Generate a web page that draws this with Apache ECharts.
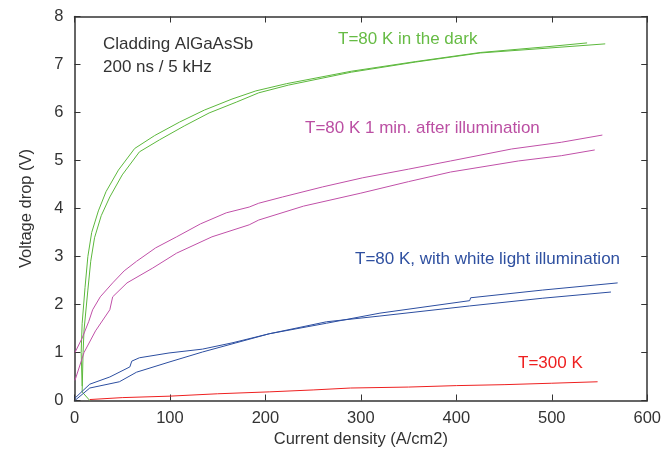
<!DOCTYPE html>
<html>
<head>
<meta charset="utf-8">
<script src="https://cdn.jsdelivr.net/npm/echarts@6/dist/echarts.min.js"></script>
<style>html,body{margin:0;padding:0;background:#fff}#c{width:664px;height:459px}</style>
</head>
<body>
<div id="c"></div>
<script>
// Data (x: current density A/cm2, y: voltage drop V)
var darkA = [[16,0],[8,0.18],[9,1.0],[10,1.47],[14,2.3],[17,2.9],[21,3.39],[28,3.85],[37,4.24],[50,4.7],[68,5.18],[89,5.43],[115,5.72],[141,5.99],[170,6.22],[193,6.41],[224,6.57],[290,6.84],[357,7.05],[425,7.24],[495,7.34],[556,7.43]];
var darkB = [[8,0.3],[7,1.0],[8,1.6],[11,2.35],[14,3.0],[18,3.5],[25,3.95],[33,4.35],[46,4.8],[63,5.25],[84,5.52],[110,5.8],[136,6.05],[165,6.28],[190,6.45],[222,6.6],[290,6.86],[357,7.06],[425,7.25],[495,7.37],[537,7.45]];
var illumA = [[0.5,1.0],[8,1.3],[15,1.65],[19,1.89],[27,2.16],[40,2.45],[52,2.7],[65,2.9],[85,3.18],[107,3.41],[132,3.68],[159,3.91],[183,4.03],[193,4.11],[218,4.24],[260,4.45],[302,4.64],[350,4.82],[394,4.99],[458,5.24],[510,5.38],[553,5.53]];
var illumB = [[0.5,0.42],[10,1.0],[22,1.45],[37,1.89],[40,2.16],[55,2.45],[82,2.76],[107,3.07],[144,3.41],[183,3.66],[193,3.76],[240,4.05],[300,4.32],[350,4.56],[394,4.76],[465,4.99],[510,5.1],[545,5.22]];
var whiteA = [[0.5,0.05],[16,0.34],[37,0.49],[58,0.70],[60,0.71],[60,0.82],[68,0.89],[99,0.99],[134,1.07],[165,1.20],[204,1.39],[264,1.61],[320,1.82],[414,2.08],[415,2.14],[490,2.3],[569,2.45]];
var whiteB = [[1,0.01],[16,0.26],[47,0.39],[65,0.59],[99,0.80],[134,1.01],[169,1.20],[204,1.39],[264,1.64],[320,1.76],[414,1.97],[490,2.13],[562,2.26]];
var warm = [[16,0.02],[50,0.06],[99,0.09],[150,0.14],[204,0.18],[250,0.22],[289,0.26],[290,0.24],[350,0.28],[400,0.31],[450,0.33],[500,0.36],[548,0.39]];
var xTicks = [0,100,200,300,400,500,600];
var yTicks = [0,1,2,3,4,5,6,7,8];

var FONT = "'Liberation Sans', Arial, sans-serif";
var cGreen = '#5cb83c', cMag = '#c050a8', cBlue = '#2c4ea0', cRed = '#ee2020';

function ln(data, color){
  return {type:'line', data:data, showSymbol:false, symbol:'none', smooth:false,
    lineStyle:{color:color, width:1}, itemStyle:{color:color}, animation:false, z:3};
}
var axisCommon = {
  axisLine:{show:true, onZero:false, lineStyle:{color:'#333', width:1.5}},
  axisTick:{show:true, inside:true, length:6, lineStyle:{color:'#333'}},
  splitLine:{show:false}
};
var chart = echarts.init(document.getElementById('c'), null, {renderer:'canvas'});
chart.setOption({
  animation:false,
  grid:{left:74.5, top:16.5, right:13.5, bottom:58.5},
  xAxis:[
    Object.assign({type:'value', min:xTicks[0], max:xTicks[xTicks.length-1], interval:100, position:'bottom',
      name:'Current density (A/cm2)', nameLocation:'middle', nameGap:30,
      nameTextStyle:{fontFamily:FONT, fontSize:16.5, color:'#333'},
      axisLabel:{fontFamily:FONT, fontSize:16.5, color:'#333', margin:9}}, axisCommon),
    Object.assign({type:'value', min:0, max:600, interval:100, position:'top', axisLabel:{show:false}}, axisCommon)
  ],
  yAxis:[
    Object.assign({type:'value', min:yTicks[0], max:yTicks[yTicks.length-1], interval:1, position:'left',
      name:'Voltage drop (V)', nameLocation:'middle', nameGap:40,
      nameTextStyle:{fontFamily:FONT, fontSize:16.5, color:'#333'},
      axisLabel:{fontFamily:FONT, fontSize:16.5, color:'#333', margin:11}}, axisCommon),
    Object.assign({type:'value', min:0, max:8, interval:1, position:'right', axisLabel:{show:false}}, axisCommon)
  ],
  series:[ln(darkA,cGreen), ln(darkB,cGreen), ln(illumA,cMag), ln(illumB,cMag), ln(whiteA,cBlue), ln(whiteB,cBlue), ln(warm,cRed)],
  graphic:[
    {type:'text', left:103, top:36, style:{text:'Cladding AlGaAsSb', fontFamily:FONT, fontSize:17, fill:'#333'}},
    {type:'text', left:103, top:59, style:{text:'200 ns / 5 kHz', fontFamily:FONT, fontSize:17, fill:'#333'}},
    {type:'text', left:338, top:31, style:{text:'T=80 K in the dark', fontFamily:FONT, fontSize:17, fill:'#66bb44'}},
    {type:'text', left:305, top:120, style:{text:'T=80 K 1 min. after illumination', fontFamily:FONT, fontSize:17, fill:'#bb4fa3'}},
    {type:'text', left:355, top:251, style:{text:'T=80 K, with white light illumination', fontFamily:FONT, fontSize:17, fill:'#2f50a0'}},
    {type:'text', left:518, top:355, style:{text:'T=300 K', fontFamily:FONT, fontSize:17, fill:'#ee2020'}}
  ]
});
</script>
</body>
</html>
